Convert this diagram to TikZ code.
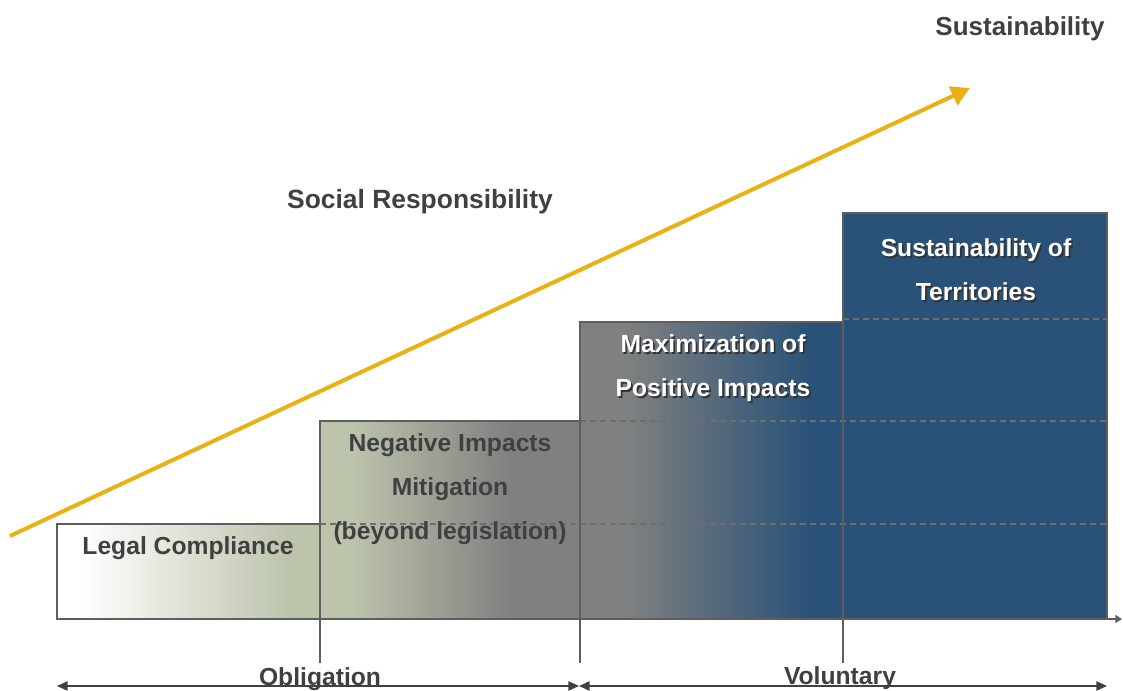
\documentclass[tikz,border=0pt]{standalone}
\usepackage{fontspec}
\setmainfont{Liberation Sans}
\usetikzlibrary{arrows.meta,positioning,calc}
\definecolor{stepgreen}{HTML}{BCC4AC}
\definecolor{stepgray}{HTML}{808080}
\definecolor{stepblue}{HTML}{2A5278}
\definecolor{txtgray}{HTML}{404040}
\definecolor{linegray}{HTML}{5E5E5E}
\definecolor{srgold}{HTML}{EBB014}
\pgfdeclarehorizontalshading{stairs}{100bp}{color(0bp)=(white); color(26.1bp)=(white);
  color(36.1bp)=(stepgreen); color(39bp)=(stepgreen); color(46.6bp)=(stepgray);
  color(52bp)=(stepgray); color(60.8bp)=(stepblue); color(100bp)=(stepblue)}
\newcommand{\shd}[1]{\leavevmode\rlap{\kern1.3pt\raisebox{-1.3pt}{\color{black!80}#1}}#1}

\begin{document}
\begin{tikzpicture}[x=0.75pt,y=-0.75pt,
   boxtext/.style={font=\bfseries\fontsize{18.5}{33}\selectfont, text=txtgray, align=center},
   whitetext/.style={boxtext, text=white},
   stepline/.style={draw=linegray, line width=1pt},
   dashline/.style={draw=linegray!90, line width=0.9pt, dash pattern=on 4.5pt off 3pt},
   spanarrow/.style={draw=txtgray, line width=1.1pt, {Triangle[length=8pt,width=7pt]}-{Triangle[length=8pt,width=7pt]}}]
   \useasboundingbox (0,0) rectangle (1123,691);
   \fill[shading=stairs] (57,619) -- (57,524) -- (320,524) -- (320,421) -- (580,421) -- (580,322)
     -- (843,322) -- (843,213) -- (1107,213) -- (1107,619) -- cycle;
   \draw[dashline] (320,524) -- (1107,524);
   \draw[dashline] (580,421) -- (1107,421);
   \draw[dashline] (843,319) -- (1107,319);
   \draw[stepline] (57,524) rectangle (320,619);
   \draw[stepline] (320,421) rectangle (580,619);
   \draw[stepline] (580,322) rectangle (843,619);
   \draw[stepline] (843,213) rectangle (1107,619);
   \coordinate (ax0) at (57,619);
   \coordinate (ax1) at (1122,619);
   \coordinate (t1) at (320,663);
   \coordinate (t2) at (580,663);
   \coordinate (t3) at (843,663);
   \coordinate (b0) at (57,686);
   \coordinate (b1) at (579,686);
   \coordinate (b2) at (1107,686);
   \coordinate (sr0) at (10,536);
   \coordinate (sr1) at (970,88);
   \draw[stepline, -{Triangle[length=5pt,width=6pt]}] (ax0) -- (ax1);
   \draw[stepline] (320,619) -- (t1);
   \draw[stepline] (580,619) -- (t2);
   \draw[stepline, line width=1.4pt] (843,619) -- (t3);
   \draw[spanarrow] (b0) -- (b1);
   \draw[spanarrow] (b1) -- (b2);
   \draw[srgold, line width=3pt, -{Triangle[length=14pt,width=15pt]}] (sr0) -- (sr1);
   \node[boxtext] (lc) at (188,548) {Legal Compliance};
   \node[boxtext] (nim) at (450,489) {Negative Impacts\\Mitigation\\(beyond legislation)};
   \node[whitetext] (mpi) at (713,369) {\shd{Maximization of}\\\shd{Positive Impacts}};
   \node[whitetext] (sot) at (976,271) {\shd{Sustainability of}\\\shd{Territories}};
   \node[boxtext, font=\bfseries\fontsize{19.8}{24}\selectfont] (soc) at (420,202) {Social Responsibility};
   \node[boxtext, font=\bfseries\fontsize{19.5}{24}\selectfont] (sus) at (1020,29) {Sustainability};
   \node[boxtext] (obl) at (320,679) {Obligation};
   \node[boxtext] (vol) at (840,678) {Voluntary};
\end{tikzpicture}
\end{document}
